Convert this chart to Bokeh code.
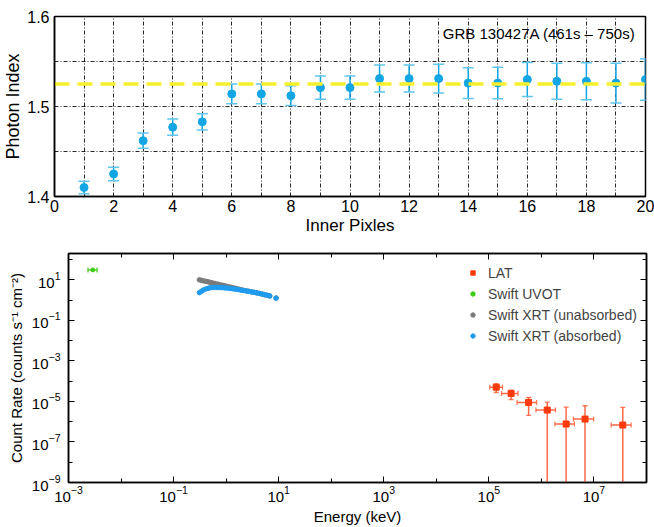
from bokeh.plotting import figure
from bokeh.models import (ColumnDataSource, Whisker, TeeHead, FixedTicker, Span, Label,
                          Legend, LegendItem, LogAxis, CustomJSTickFormatter)
from bokeh.embed import file_html
from bokeh.resources import INLINE

FONT = "Liberation Sans"

# ---------------- top panel data ----------------
pixels = list(range(1, 21))
photon_index = [1.410, 1.425, 1.462, 1.477, 1.483, 1.514, 1.514, 1.512, 1.521, 1.521,
                1.531, 1.531, 1.531, 1.526, 1.526, 1.530, 1.528, 1.528, 1.526, 1.530]
photon_err = [0.007, 0.0075, 0.0085, 0.009, 0.009, 0.011, 0.011, 0.011, 0.013, 0.013,
              0.015, 0.015, 0.016, 0.017, 0.0175, 0.019, 0.020, 0.0205, 0.022, 0.023]
mean_index = 1.525
top_label = "GRB 130427A (461s – 750s)"

# ---------------- bottom panel data ----------------
uvot_e = [2.9e-3]
uvot_e_lo = [2.35e-3]
uvot_e_hi = [3.5e-3]
uvot_rate = [31.0]

xrt_e = [0.31, 0.34, 0.37, 0.41, 0.45, 0.49, 0.54, 0.60, 0.68, 0.76, 0.85, 0.95, 1.07, 1.20,
         1.35, 1.51, 1.70, 1.91, 2.14, 2.40, 2.69, 3.02, 3.39, 3.80, 4.27, 4.79, 5.37, 6.03,
         6.76, 8.91]
xrt_abs = [2.34, 2.75, 3.2, 3.55, 3.8, 4.05, 4.15, 4.2, 4.2, 4.15, 4.1, 4.0, 3.9, 3.75,
           3.6, 3.45, 3.3, 3.1, 3.0, 2.85, 2.7, 2.55, 2.43, 2.3, 2.15, 2.0, 1.86, 1.74,
           1.62, 1.26]
xrt_unabs = [10.0, 9.45, 8.9, 8.5, 8.0, 7.6, 7.15, 6.7, 6.25, 5.8, 5.45, 5.1, 4.75, 4.4,
             4.1, 3.85, 3.55, 3.3, 3.05, 2.9, 2.72, 2.57, 2.43, 2.3, 2.15, 2.0, 1.86, 1.74,
             1.62, 1.26]

lat_e = [1.38e5, 2.65e5, 5.71e5, 1.29e6, 2.95e6, 6.76e6, 3.54e7]
lat_e_lo = [1.04e5, 1.74e5, 3.44e5, 7.87e5, 1.80e6, 4.06e6, 2.13e7]
lat_e_hi = [1.82e5, 3.59e5, 8.10e5, 1.85e6, 4.25e6, 9.86e6, 5.09e7]
lat_rate = [5.07e-5, 2.47e-5, 8.9e-6, 3.75e-6, 7.7e-7, 1.35e-6, 6.86e-7]
lat_rate_hi = [7.4e-5, 3.6e-5, 1.57e-5, 9.3e-6, 5.26e-6, 6.12e-6, 5.07e-6]
lat_rate_lo = [2.77e-5, 1.25e-5, 2.05e-6, 1e-9, 1e-9, 1e-9, 1e-9]   # last four: to axis floor
n_capped = 3

x_major = [1e-3, 1e-1, 1e1, 1e3, 1e5, 1e7]
x_minor = [1e-2, 1e0, 1e2, 1e4, 1e6, 1e8]
y_major = [1e-9, 1e-7, 1e-5, 1e-3, 1e-1, 1e1]
y_minor = [1e-8, 1e-6, 1e-4, 1e-2, 1e0, 1e2]

BLUE = "#12a6e4"
BLUE_CAP = "#5ec6ef"
XRT_BLUE = "#1e9cf0"
GRAY = "#7a7a7a"
GREEN = "#3ccc14"
RED = "#ff3a0a"
RED_BAR = "#ff5a35"


def style_axis(ax, size):
    ax.axis_line_color = "black"
    ax.axis_line_width = 1.5
    ax.major_tick_line_color = "black"
    ax.minor_tick_line_color = "black"
    ax.major_label_text_font = FONT
    ax.major_label_text_font_size = size
    ax.axis_label_text_font = FONT
    ax.axis_label_text_font_style = "normal"
    ax.major_label_text_color = "black"
    ax.axis_label_text_color = "black"


# ================= top figure =================
p1 = figure(width=654, height=240, x_range=(0, 20), y_range=(1.4, 1.6),
            output_backend="svg", toolbar_location=None,
            min_border_left=54, min_border_right=9, min_border_top=16, min_border_bottom=44)
p1.outline_line_color = "black"
p1.outline_line_width = 1.5
p1.background_fill_color = "white"

p1.xaxis.ticker = FixedTicker(ticks=list(range(0, 21, 2)))
p1.yaxis.ticker = FixedTicker(ticks=[1.4, 1.5, 1.6])
p1.yaxis.formatter = CustomJSTickFormatter(code="return tick.toFixed(1);")
for ax in (p1.xaxis[0], p1.yaxis[0]):
    style_axis(ax, "16px")
    ax.major_tick_in = 0
    ax.major_tick_out = 0
    ax.minor_tick_in = 0
    ax.minor_tick_out = 0
p1.xaxis.axis_label = "Inner Pixles"
p1.yaxis.axis_label = "Photon Index"
p1.xaxis.axis_label_text_font_size = "17px"
p1.yaxis.axis_label_text_font_size = "18px"
p1.xaxis.major_label_standoff = 3
p1.xaxis.axis_label_standoff = 1
p1.yaxis.major_label_standoff = 5
p1.yaxis.axis_label_standoff = 1

p1.xgrid.ticker = FixedTicker(ticks=list(range(1, 20)))
p1.ygrid.ticker = FixedTicker(ticks=[1.45, 1.5, 1.55])
for g in (p1.xgrid[0], p1.ygrid[0]):
    g.grid_line_color = "black"
    g.grid_line_alpha = 0.85
    g.grid_line_width = 1
    g.grid_line_dash = "4 2 1 2"

p1.add_layout(Span(location=mean_index, dimension="width", line_color="#f6ef2c",
                   line_width=3.5, line_dash="15 8", level="glyph"))

src1 = ColumnDataSource(dict(x=pixels, y=photon_index,
                             lo=[v - e for v, e in zip(photon_index, photon_err)],
                             hi=[v + e for v, e in zip(photon_index, photon_err)]))
p1.add_layout(Whisker(source=src1, base="x", lower="lo", upper="hi", dimension="height",
                      line_color=BLUE, line_width=1.5,
                      upper_head=TeeHead(size=11, line_color=BLUE_CAP, line_width=1.5),
                      lower_head=TeeHead(size=11, line_color=BLUE_CAP, line_width=1.5)))
p1.scatter("x", "y", source=src1, size=8, color=BLUE)

p1.add_layout(Label(x=19.66, y=1.581, text=top_label, text_align="right",
                    text_baseline="middle", text_font=FONT, text_font_size="15px",
                    text_color="black"))

# ================= bottom figure =================
p2 = figure(width=654, height=287, x_axis_type="log", y_axis_type="log",
            x_range=(1e-3, 1e8), y_range=(1e-9, 2e2),
            output_backend="svg", toolbar_location=None,
            min_border_left=68, min_border_right=8, min_border_top=13, min_border_bottom=45)
p2.outline_line_color = "black"
p2.outline_line_width = 1.5
p2.xgrid.visible = False
p2.ygrid.visible = False

p2.xaxis.ticker = FixedTicker(ticks=x_major, minor_ticks=x_minor)
p2.yaxis.ticker = FixedTicker(ticks=y_major, minor_ticks=y_minor)
for ax in (p2.xaxis[0], p2.yaxis[0]):
    style_axis(ax, "15px")
    ax.major_tick_in = 6
    ax.major_tick_out = 0
    ax.minor_tick_in = 4
    ax.minor_tick_out = 0
    ax.axis_label_text_font_size = "15px"
p2.xaxis.axis_label = "Energy (keV)"
p2.yaxis.axis_label = "Count Rate (counts s⁻¹ cm⁻²)"
p2.xaxis.major_label_standoff = 3
p2.xaxis.axis_label_standoff = 3
p2.yaxis.major_label_standoff = 8
p2.yaxis.axis_label_standoff = 4

blank = CustomJSTickFormatter(code="return '';")
top_ax = LogAxis(ticker=FixedTicker(ticks=x_major, minor_ticks=x_minor), formatter=blank)
right_ax = LogAxis(ticker=FixedTicker(ticks=y_major, minor_ticks=y_minor), formatter=blank)
for ax in (top_ax, right_ax):
    style_axis(ax, "1px")
    ax.major_tick_in = 6
    ax.major_tick_out = 0
    ax.minor_tick_in = 4
    ax.minor_tick_out = 0
    ax.major_label_standoff = 0
p2.add_layout(top_ax, "above")
p2.add_layout(right_ax, "right")

# UVOT
src_uv = ColumnDataSource(dict(x=uvot_e, y=uvot_rate, lo=uvot_e_lo, hi=uvot_e_hi))
p2.add_layout(Whisker(source=src_uv, base="y", lower="lo", upper="hi", dimension="width",
                      line_color=GREEN, line_width=1.2,
                      upper_head=TeeHead(size=5, line_color=GREEN, line_width=1.2),
                      lower_head=TeeHead(size=5, line_color=GREEN, line_width=1.2)))
r_uv = p2.scatter("x", "y", source=src_uv, size=4, color=GREEN)

# XRT
src_xrt = ColumnDataSource(dict(x=xrt_e, ua=xrt_unabs, ab=xrt_abs))
r_ua = p2.scatter("x", "ua", source=src_xrt, size=4.5, color=GRAY)
r_ab = p2.scatter("x", "ab", source=src_xrt, size=4.5, color=XRT_BLUE)

# LAT
def lat_src(sl):
    return ColumnDataSource(dict(x=lat_e[sl], y=lat_rate[sl], xl=lat_e_lo[sl], xh=lat_e_hi[sl],
                                 yl=lat_rate_lo[sl], yh=lat_rate_hi[sl]))

src_lat_all = lat_src(slice(0, None))
src_lat_cap = lat_src(slice(0, n_capped))
src_lat_open = lat_src(slice(n_capped, None))

def head():
    return TeeHead(size=5, line_color=RED_BAR, line_width=1.3, line_alpha=0.8)

p2.add_layout(Whisker(source=src_lat_all, base="y", lower="xl", upper="xh", dimension="width",
                      line_color=RED_BAR, line_width=1.5, line_alpha=0.9,
                      upper_head=head(), lower_head=head()))
p2.add_layout(Whisker(source=src_lat_cap, base="x", lower="yl", upper="yh", dimension="height",
                      line_color=RED_BAR, line_width=1.5, line_alpha=0.9,
                      upper_head=head(), lower_head=head()))
p2.add_layout(Whisker(source=src_lat_open, base="x", lower="yl", upper="yh", dimension="height",
                      line_color=RED_BAR, line_width=1.5, line_alpha=0.9,
                      upper_head=head(), lower_head=None))
r_lat = p2.scatter("x", "y", source=src_lat_all, marker="square", size=6, color=RED)

legend = Legend(items=[LegendItem(label="LAT", renderers=[r_lat]),
                       LegendItem(label="Swift UVOT", renderers=[r_uv]),
                       LegendItem(label="Swift XRT (unabsorbed)", renderers=[r_ua]),
                       LegendItem(label="Swift XRT (absorbed)", renderers=[r_ab])],
                location=(399, 136), padding=0, margin=0, spacing=0,
                glyph_width=11, glyph_height=11, label_height=21, label_standoff=10,
                label_text_font=FONT, label_text_font_size="14px",
                border_line_color=None, background_fill_alpha=0)
p2.add_layout(legend)

open("out.html", "w").write(file_html([p1, p2], INLINE))
